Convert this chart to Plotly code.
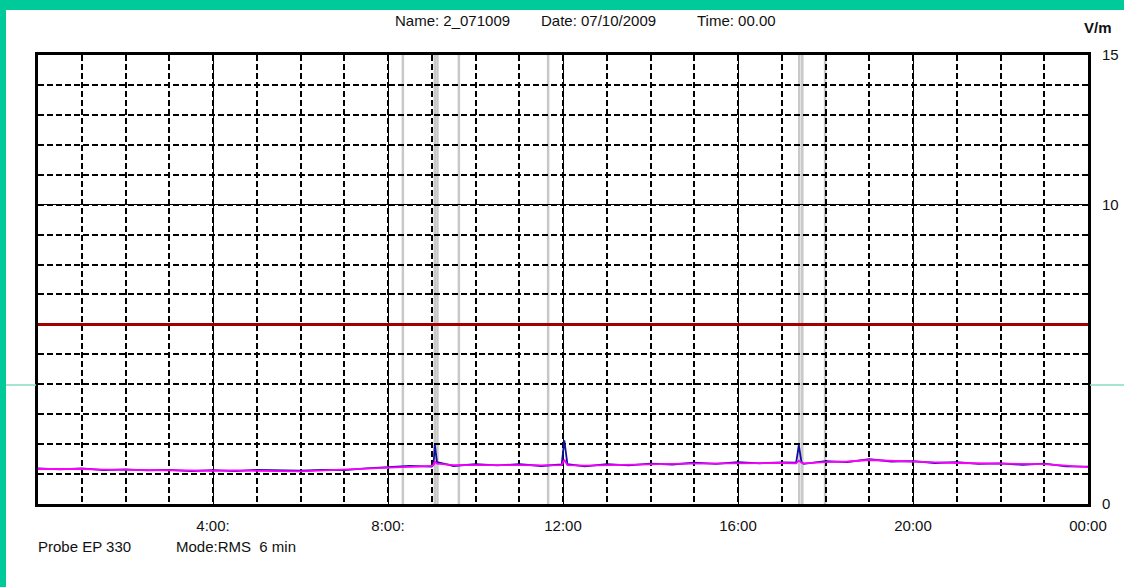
import plotly.graph_objects as go

# ---- data ----
hours = [0, 0.5, 1, 1.5, 2, 2.5, 3, 3.5, 4, 4.5, 5, 5.5, 6, 6.5, 7, 7.5, 8, 8.5, 9,
         9.04, 9.07, 9.12, 9.5, 10, 10.5, 11, 11.5, 11.97, 12.03, 12.1, 12.5, 13, 13.5,
         14, 14.5, 15, 15.5, 16, 16.5, 17, 17.33, 17.39, 17.45, 17.5, 18, 18.5, 19,
         19.5, 20, 20.5, 21, 21.5, 22, 22.5, 23, 23.5, 24]
rms_vm = [1.17, 1.18, 1.17, 1.15, 1.14, 1.13, 1.12, 1.11, 1.11, 1.12, 1.12, 1.10, 1.09,
          1.12, 1.15, 1.17, 1.20, 1.24, 1.27,
          1.30, 1.42, 1.35, 1.30, 1.30, 1.31, 1.30, 1.29, 1.30, 1.48, 1.30, 1.28, 1.30,
          1.31, 1.33, 1.34, 1.35, 1.36, 1.37, 1.38, 1.37, 1.36, 1.45, 1.38, 1.36, 1.40,
          1.42, 1.47, 1.44, 1.40, 1.39, 1.37, 1.36, 1.34, 1.33, 1.33, 1.28, 1.23]
peak_vm = [1.19, 1.16, 1.19, 1.13, 1.16, 1.12, 1.14, 1.10, 1.13, 1.10, 1.14, 1.12, 1.11,
           1.14, 1.13, 1.19, 1.22, 1.27, 1.25,
           1.33, 1.98, 1.40, 1.27, 1.33, 1.29, 1.33, 1.27, 1.32, 2.13, 1.33, 1.26, 1.33,
           1.29, 1.35, 1.32, 1.38, 1.34, 1.40, 1.36, 1.39, 1.38, 1.97, 1.41, 1.34, 1.43,
           1.40, 1.50, 1.42, 1.43, 1.37, 1.40, 1.34, 1.36, 1.31, 1.35, 1.26, 1.25]
limit_vm = 6
event_hours = [8.34, 9.07, 9.13, 9.62, 11.66, 17.40, 17.47, 17.99]

x_tickvals = [4, 8, 12, 16, 20, 24]
x_ticktext = ["4:00:", "8:00:", "12:00", "16:00", "20:00", "00:00"]
y_tickvals = [0, 10, 15]
y_ticktext = ["0", "10", "15"]

header_name = "Name: 2_071009"
header_date = "Date: 07/10/2009"
header_time = "Time: 00.00"
unit_label = "V/m"
probe_text = "Probe EP 330"
mode_text = "Mode:RMS\u00a0 6 min"

# ---- layout geometry ----
W, H = 1124, 587
L, R, T, B = 38, 1088, 55, 504
pw, ph = R - L, B - T

def px(xp):
    return (xp - L) / pw

def py(yp):
    return (B - yp) / ph

FONT = "Liberation Sans, Arial, sans-serif"
TEAL = "#00C99A"

fig = go.Figure()
fig.add_trace(go.Scatter(x=[0, 24], y=[limit_vm, limit_vm], mode="lines",
                         line=dict(color="#A00000", width=3), hoverinfo="skip"))
fig.add_trace(go.Scatter(x=hours, y=peak_vm, mode="lines",
                         line=dict(color="#1010A0", width=1.8)))
fig.add_trace(go.Scatter(x=hours, y=rms_vm, mode="lines",
                         line=dict(color="#FF00FF", width=1.8)))

shapes = []
for h in event_hours:
    shapes.append(dict(type="line", xref="x", yref="paper", x0=h, x1=h, y0=0, y1=1,
                       line=dict(color="#C8C8C8", width=2.5), layer="between"))
# teal frame
shapes.append(dict(type="rect", xref="paper", yref="paper", x0=px(0), x1=px(W),
                   y0=py(10), y1=py(0), fillcolor=TEAL, line=dict(width=0)))
shapes.append(dict(type="rect", xref="paper", yref="paper", x0=px(0), x1=px(6),
                   y0=py(H), y1=py(0), fillcolor=TEAL, line=dict(width=0)))
# thin teal stray line
shapes.append(dict(type="line", xref="paper", yref="paper", x0=px(6), x1=px(L - 2),
                   y0=py(385), y1=py(385), line=dict(color="#86DCC4", width=1.5)))
shapes.append(dict(type="line", xref="paper", yref="paper", x0=px(R + 2), x1=px(W),
                   y0=py(385), y1=py(385), line=dict(color="#86DCC4", width=1.5)))

txt = dict(family=FONT, size=15, color="#111111")
annotations = [
    dict(text=header_name, x=px(393), y=py(20)),
    dict(text=header_date, x=px(539), y=py(20)),
    dict(text=header_time, x=px(695), y=py(20)),
    dict(text=probe_text, x=px(36), y=py(546)),
    dict(text=mode_text, x=px(174), y=py(546)),
]
for a in annotations:
    a.update(xref="paper", yref="paper", xanchor="left", yanchor="middle",
             showarrow=False, font=txt)
annotations.append(dict(text="<b>" + unit_label + "</b>", xref="paper", yref="paper",
                        x=px(1082), y=py(27), xanchor="left", yanchor="middle",
                        showarrow=False, font=dict(family=FONT, size=15, color="#111111")))

fig.update_layout(
    width=W, height=H,
    margin=dict(l=L, r=W - R, t=T, b=H - B, pad=0),
    paper_bgcolor="white", plot_bgcolor="white",
    showlegend=False,
    shapes=shapes, annotations=annotations,
    font=txt,
    xaxis=dict(range=[0, 24], tickmode="array", tickvals=x_tickvals, ticktext=x_ticktext,
               showgrid=True, gridcolor="black", gridwidth=1, automargin=False,
               minor=dict(tickmode="linear", tick0=0, dtick=1, showgrid=True,
                          gridcolor="black", gridwidth=1.5, griddash="6px,3px"),
               showline=True, mirror=True, linecolor="black", linewidth=3,
               zeroline=False, ticks="", ticklabelstandoff=6, tickfont=txt),
    yaxis=dict(range=[0, 15], tickmode="array", tickvals=y_tickvals, ticktext=y_ticktext,
               side="right", showgrid=True, gridcolor="black", gridwidth=1, automargin=False,
               minor=dict(tickmode="linear", tick0=0, dtick=1, showgrid=True,
                          gridcolor="black", gridwidth=1.5, griddash="6px,3px"),
               showline=True, mirror=True, linecolor="black", linewidth=3,
               zeroline=False, ticks="", ticklabelstandoff=8, tickfont=txt),
)

fig.write_html("out.html",
               config={"displayModeBar": False},
               post_script="document.body.style.margin='0';"
                           "document.body.style.overflow='hidden';")
